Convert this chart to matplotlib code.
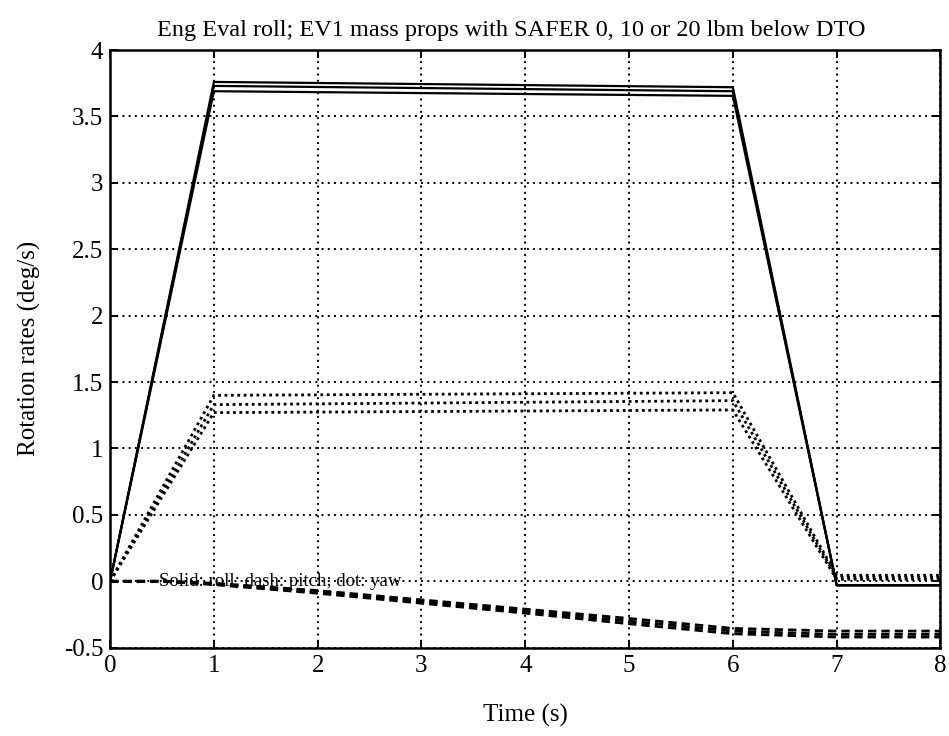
import matplotlib
matplotlib.use("Agg")
import matplotlib.pyplot as plt

plt.rcParams['font.family'] = ['Liberation Serif', 'DejaVu Serif']

# Time breakpoints (s)
t_roll = [0, 1, 6, 7, 8]
roll_a = [0, 3.76, 3.72, -0.03, -0.03]
roll_b = [0, 3.73, 3.69, -0.03, -0.03]
roll_c = [0, 3.69, 3.655, -0.03, -0.03]

t_yaw = [0, 1, 6, 7, 8]
yaw_a = [0, 1.40, 1.42, 0.045, 0.045]
yaw_b = [0, 1.33, 1.36, 0.03, 0.03]
yaw_c = [0, 1.27, 1.29, 0.015, 0.015]

t_pitch = [0, 0.5, 1, 2, 3, 4, 5, 6, 7, 8]
pitch_a = [0, 0, -0.015, -0.07, -0.14, -0.21, -0.28, -0.355, -0.375, -0.375]
pitch_b = [0, 0, -0.02, -0.08, -0.15, -0.225, -0.30, -0.375, -0.40, -0.40]
pitch_c = [0, 0, -0.025, -0.09, -0.165, -0.24, -0.32, -0.395, -0.42, -0.42]

xticks = [0, 1, 2, 3, 4, 5, 6, 7, 8]
yticks = [-0.5, 0, 0.5, 1, 1.5, 2, 2.5, 3, 3.5, 4]
yticklabels = ['-0.5', '0', '0.5', '1', '1.5', '2', '2.5', '3', '3.5', '4']

fig = plt.figure(figsize=(9.49, 7.36), dpi=100)
ax = fig.add_axes([0.116, 0.120, 0.875, 0.812])

for y in (roll_a, roll_b, roll_c):
    ax.plot(t_roll, y, color='black', lw=1.6, ls='-')
for y in (pitch_a, pitch_b, pitch_c):
    ax.plot(t_pitch, y, color='black', lw=2.0, ls=(0, (3, 1.8)))
for y in (yaw_a, yaw_b, yaw_c):
    ax.plot(t_yaw, y, color='black', lw=2.0, ls=(0, (1, 1.3)))

ax.set_xlim(0, 8)
ax.set_ylim(-0.5, 4)
ax.set_xticks(xticks)
ax.set_yticks(yticks)
ax.set_yticklabels(yticklabels)
ax.grid(True, color='black', ls=(0, (1, 2.2)), lw=1.4)
ax.tick_params(direction='in', length=6, width=1.4, labelsize=18, top=True, right=True, pad=5)
for s in ax.spines.values():
    s.set_linewidth(1.8)

ax.text(0.47, 0.0, 'Solid: roll; dash: pitch; dot: yaw', fontsize=13.5,
        va='center', ha='left', color='black')

ax.set_title('Eng Eval roll; EV1 mass props with SAFER 0, 10 or 20 lbm below DTO',
             fontsize=17.5, pad=10, x=0.483)
ax.set_xlabel('Time (s)', fontsize=18, labelpad=20)
ax.set_ylabel('Rotation rates (deg/s)', fontsize=18, labelpad=16)

fig.savefig('out.png', dpi=100)
